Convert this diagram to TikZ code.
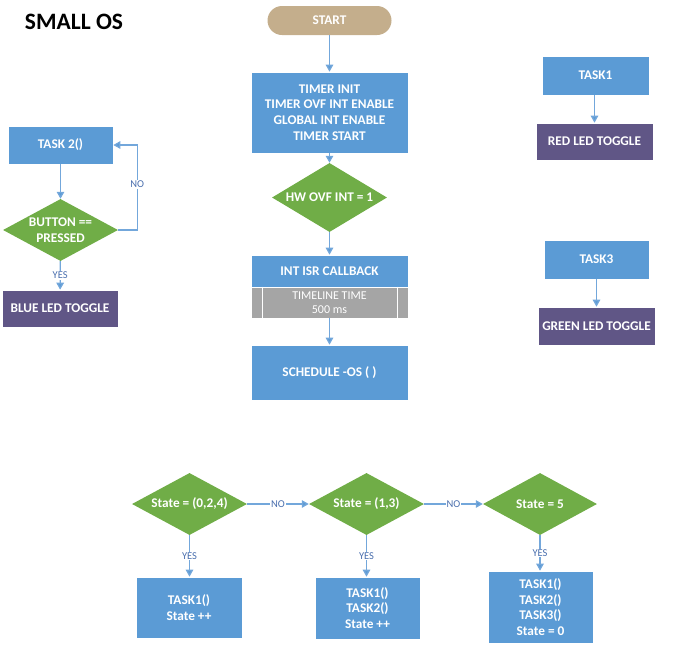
\documentclass[tikz,border=0pt]{standalone}
\usepackage{fontspec}
\setmainfont{Carlito}
\usetikzlibrary{shapes.geometric,arrows.meta}
\definecolor{cblue}{HTML}{5B9BD5}
\definecolor{cgreen}{HTML}{70AD47}
\definecolor{cpurple}{HTML}{605686}
\definecolor{ctan}{HTML}{C4AE8C}
\definecolor{cgrey}{HTML}{A5A5A5}
\definecolor{cline}{HTML}{73A7DB}
\definecolor{clabel}{HTML}{4A6FAE}
\begin{document}
\begin{tikzpicture}[x=1pt,y=-1pt,
  boxbase/.style={rectangle, draw=white, line width=0.6pt, text=white, align=center, inner sep=0pt,
    font=\bfseries\fontsize{13.3}{15.7}\selectfont},
  bluebox/.style={boxbase, fill=cblue},
  purplebox/.style={boxbase, fill=cpurple},
  greybox/.style={boxbase, fill=cgrey, font=\fontsize{12}{14}\selectfont},
  startbox/.style={boxbase, fill=ctan, rounded corners=14.5pt, draw=none},
  decision/.style={diamond, shape aspect=1.8, fill=cgreen, draw=none, text=white, align=center, inner sep=0pt,
    font=\bfseries\fontsize{13.3}{15.7}\selectfont},
  conn/.style={draw=cline, line width=1.3pt, -{Triangle[width=7.5pt,length=7pt,fill=cblue]}},
  lbl/.style={fill=white, text=clabel, inner sep=1pt, font=\fontsize{10.5}{12}\selectfont}
]
\useasboundingbox (0,0) rectangle (680,646);

\node[text=black, font=\bfseries\fontsize{23.5}{25}\selectfont] (title) at (74,22) {SMALL OS};

% main column
\node[startbox, minimum width=124pt, minimum height=29pt] (start) at (329.5,20.5) {START};
\node[bluebox, minimum width=157pt, minimum height=81pt] (init) at (329.5,112.5)
  {TIMER INIT\\TIMER OVF INT ENABLE\\GLOBAL INT ENABLE\\TIMER START};
\node[decision, minimum width=115pt, minimum height=69pt] (hw) at (329.5,197.5) {HW OVF INT = 1};
\node[bluebox, minimum width=157pt, minimum height=32pt] (isr) at (329.5,271) {INT ISR CALLBACK};
\node[greybox, minimum width=157pt, minimum height=31pt] (tl) at (329.5,302.5) {TIMELINE TIME\\500 ms};
\draw[white, line width=1pt] ([xshift=12pt]tl.north west) -- ([xshift=12pt]tl.south west);
\draw[white, line width=1pt] ([xshift=-11pt]tl.north east) -- ([xshift=-11pt]tl.south east);
\node[bluebox, minimum width=157pt, minimum height=55pt] (sched) at (329.5,372.5) {SCHEDULE -OS ( )};

\draw[conn] (start) -- (init);
\draw[conn] (init) -- (hw);
\draw[conn] (hw) -- (isr);
\draw[conn] (tl) -- (sched);

% task 2
\node[bluebox, minimum width=105pt, minimum height=38pt] (task2) at (60.5,145) {TASK 2()};
\node[decision, minimum width=115pt, minimum height=62pt] (btn) at (60.5,230) {BUTTON ==\\PRESSED};
\node[purplebox, minimum width=116pt, minimum height=37pt] (blue) at (60,308.5) {BLUE LED TOGGLE};
\draw[conn] (task2) -- (btn);
\draw[conn] (btn) -- node[lbl] {YES} (blue);
\draw[conn] (btn.east) -- ++(19,0) |- node[lbl, pos=0.27] {NO} (task2.east);

% tasks 1 and 3
\node[bluebox, minimum width=107pt, minimum height=39pt] (task1) at (595.5,75.5) {TASK1};
\node[purplebox, minimum width=117pt, minimum height=37pt] (red) at (594.5,141.5) {RED LED TOGGLE};
\draw[conn] (task1.south -| red.north) -- (red.north);
\node[bluebox, minimum width=105pt, minimum height=39pt] (task3) at (596.5,259.5) {TASK3};
\node[purplebox, minimum width=117pt, minimum height=38pt] (green) at (596.5,326) {GREEN LED TOGGLE};
\draw[conn] (task3) -- (green);

% scheduler states
\node[decision, minimum width=115pt, minimum height=62pt] (d1) at (189.5,504) {State = (0,2,4)};
\node[decision, minimum width=115pt, minimum height=62pt] (d2) at (366.5,504) {State = (1,3)};
\node[decision, minimum width=114pt, minimum height=62pt] (d3) at (540,504) {State = 5};
\node[bluebox, minimum width=106pt, minimum height=61pt] (b1) at (189,607.5) {TASK1()\\State ++};
\node[bluebox, minimum width=105pt, minimum height=62pt] (b2) at (367.5,608) {TASK1()\\TASK2()\\State ++};
\node[bluebox, minimum width=105pt, minimum height=72pt] (b3) at (540.5,607) {TASK1()\\TASK2()\\TASK3()\\State = 0};
\draw[conn] (d1) -- node[lbl] {NO} (d2);
\draw[conn] (d2) -- node[lbl] {NO} (d3);
\draw[conn] (d1.south) -- node[lbl] {YES} (d1.south |- b1.north);
\draw[conn] (d2.south) -- node[lbl] {YES} (d2.south |- b2.north);
\draw[conn] (d3.south) -- node[lbl] {YES} (d3.south |- b3.north);
\end{tikzpicture}
\end{document}
